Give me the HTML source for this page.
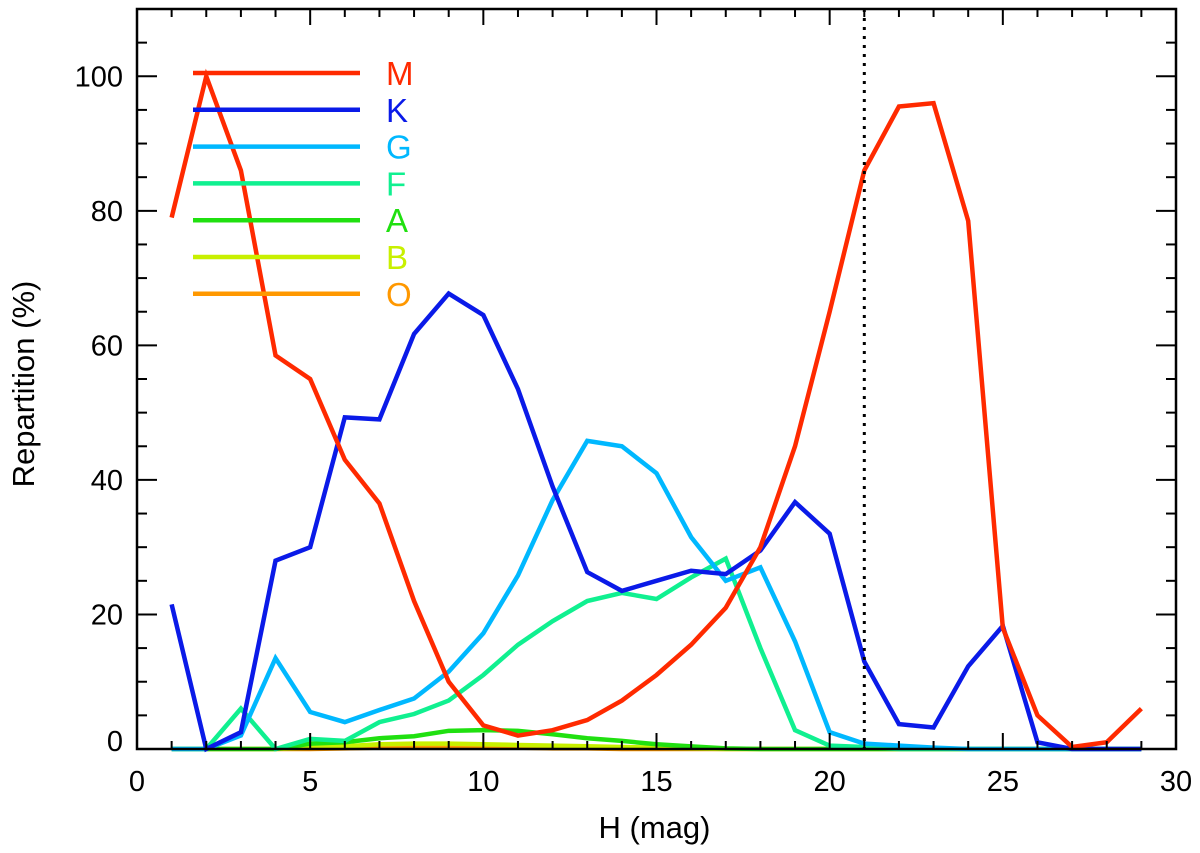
<!DOCTYPE html>
<html><head><meta charset="utf-8"><style>
html,body{margin:0;padding:0;background:#fff;}
svg text{font-family:"Liberation Sans",Arial,sans-serif;}
</style></head><body>
<svg id="chart" width="1200" height="848" viewBox="0 0 1200 848"></svg>
<script>
const xs = [1,2,3,4,5,6,7,8,9,10,11,12,13,14,15,16,17,18,19,20,21,22,23,24,25,26,27,28,29];
const seriesNames = ["M","K","G","F","A","B","O"];
const seriesColors = ["#ff2a00","#0a1ae8","#00b8ff","#10f090","#20e010","#c8f000","#ff9800"];
const valM = [79,100,86,58.5,55,43,36.5,22,10,3.5,2,2.8,4.3,7.2,11,15.5,21,30,45,65,86,95.5,96,78.5,18,5,0.3,1,6];
const valK = [21.5,0,2.5,28,30,49.3,49,61.7,67.7,64.5,53.5,39,26.3,23.5,25,26.5,26,29.5,36.7,32,13,3.7,3.2,12.3,18.3,1,0,0,0];
const valG = [0,0,2,13.5,5.5,4,5.8,7.5,11.5,17.2,25.8,37,45.8,45,41,31.5,25,27,16,2.5,0.8,0.5,0.2,0,0,0,0,0,0];
const valF = [0,0,6,0,1.5,1.2,4,5.2,7.2,11,15.5,19,22,23.2,22.3,25.5,28.3,15,2.8,0.5,0.3,0,0,0,0,0,0,0,0];
const valA = [0,0,0,0,0.8,1,1.6,1.9,2.7,2.8,2.7,2.2,1.6,1.2,0.7,0.4,0.1,0,0,0,0,0,0,0,0,0,0,0,0];
const valB = [0,0,0,0,0.2,0.4,0.7,0.8,0.8,0.7,0.6,0.5,0.4,0.3,0.2,0.1,0,0,0,0,0,0,0,0,0,0,0,0,0];
const valO = [0,0,0,0,0,0.1,0.2,0.3,0.3,0.2,0.2,0.1,0.1,0,0,0,0,0,0,0,0,0,0,0,0,0,0,0,0];
const xTicks = [0,5,10,15,20,25,30];
const yTicks = [0,20,40,60,80,100];
const cutoffX = 21;

const L=137,R=1176,T=9,B=749, xMin=0,xMax=30,yMin=0,yMax=110;
const sx=v=>L+(v-xMin)/(xMax-xMin)*(R-L);
const sy=v=>B-(v-yMin)/(yMax-yMin)*(B-T);
const svg=document.getElementById('chart');
const NS='http://www.w3.org/2000/svg';
function mk(tag,attrs,parent){const e=document.createElementNS(NS,tag);for(const k in attrs)e.setAttribute(k,attrs[k]);(parent||svg).appendChild(e);return e;}

const allVals=[valM,valK,valG,valF,valA,valB,valO];
for(let s=allVals.length-1;s>=0;s--){
  const p=mk('polyline',{points:xs.map((x,i)=>sx(x)+','+sy(allVals[s][i])).join(' '),fill:'none',stroke:seriesColors[s],'stroke-width':4.5,'stroke-linejoin':'miter'});
  
  
}
const cl=mk('line',{x1:sx(cutoffX),x2:sx(cutoffX),y1:T,y2:B,stroke:'#000','stroke-width':3,'stroke-dasharray':'3,6'});



const fr=mk('rect',{x:L,y:T,width:R-L,height:B-T,fill:'none',stroke:'#000','stroke-width':2.5});



for(let v=xMin;v<=xMax;v++){
  const major=v%5===0, len=major?16:8;
  mk('line',{x1:sx(v),x2:sx(v),y1:B,y2:B-len,stroke:'#000','stroke-width':2});
  mk('line',{x1:sx(v),x2:sx(v),y1:T,y2:T+len,stroke:'#000','stroke-width':2});
}
xTicks.forEach(v=>{const t=mk('text',{x:sx(v),y:791,'text-anchor':'middle','font-size':29});t.textContent=v;

});
for(let v=yMin;v<=yMax;v+=5){
  const major=v%20===0, len=major?20:10;
  mk('line',{x1:L,x2:L+len,y1:sy(v),y2:sy(v),stroke:'#000','stroke-width':2});
  mk('line',{x1:R,x2:R-len,y1:sy(v),y2:sy(v),stroke:'#000','stroke-width':2});
}
yTicks.forEach(v=>{const t=mk('text',{x:123,y:Math.min(sy(v)+10,751),'text-anchor':'end','font-size':29});t.textContent=v;

});

const xt=mk('text',{x:(L+R)/2-2,y:838,'text-anchor':'middle','font-size':31});xt.textContent='H (mag)';


const yt=mk('text',{x:0,y:0,'text-anchor':'middle','font-size':31,transform:'translate(34,'+((T+B)/2+5)+') rotate(-90)'});yt.textContent='Repartition (%)';



seriesNames.forEach((n,i)=>{
  const y=73+i*36.8;
  const g=mk('g',{});
  
  
  mk('line',{x1:193,x2:360,y1:y,y2:y,stroke:seriesColors[i],'stroke-width':4.5},g);
  const t=mk('text',{x:386,y:y+12,'font-size':33,fill:seriesColors[i]},g);t.textContent=n;
});
</script>
</body></html>
